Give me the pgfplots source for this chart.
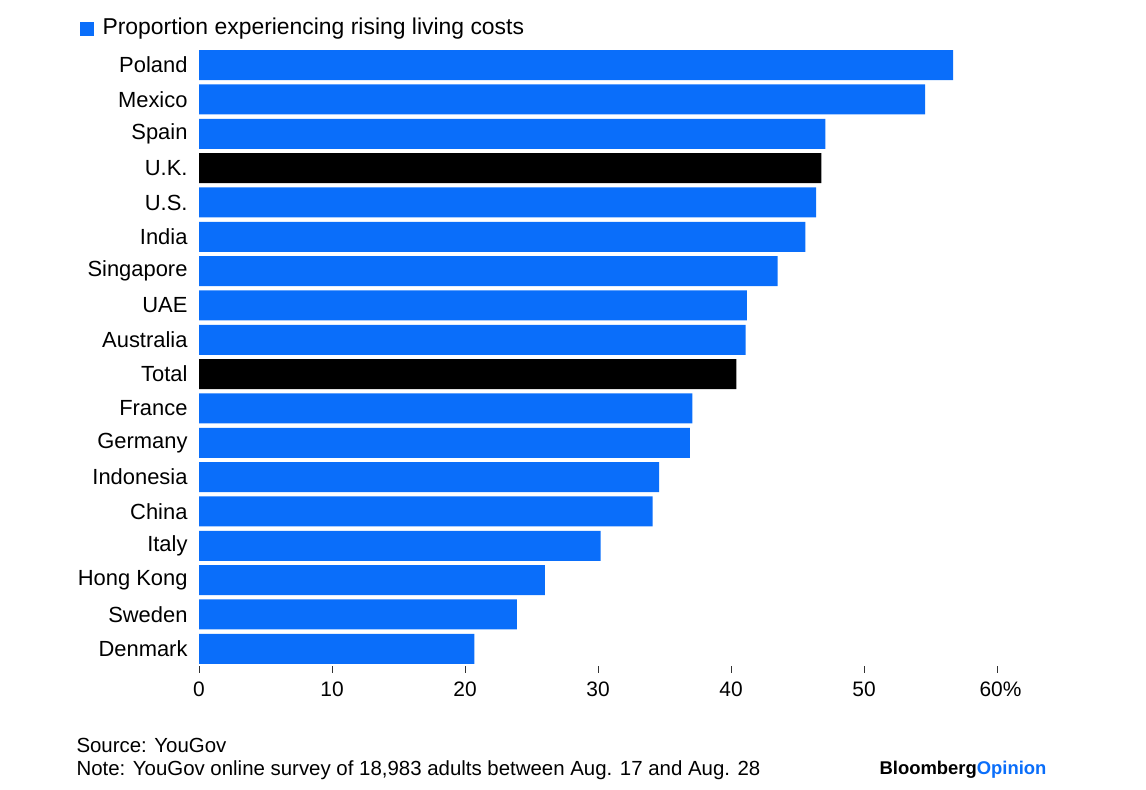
\documentclass[border=0pt]{standalone}
\usepackage{pgfplots}
\pgfplotsset{compat=1.18}
\usepackage{fontspec}
\setmainfont{Liberation Sans}
\definecolor{bb}{RGB}{10,110,250}
\begin{document}
\begin{tikzpicture}[x=1bp,y=1bp]
\path (0,0) rectangle (1146,790);
\begin{axis}[at={(199bp,124bp)},anchor=south west,scale only axis,
 width=798bp,height=618bp,
 xmin=0,xmax=60,ymin=-0.5,ymax=17.5,
 axis line style={draw=none},
 xbar,bar width=30bp,bar shift=0pt,
 ytick={0,...,17},
 yticklabels={Denmark,Sweden,Hong Kong,Italy,China,Indonesia,Germany,France,Total,Australia,UAE,Singapore,India,U.S.,U.K.,Spain,Mexico,Poland},
 yticklabel style={font=\fontsize{22}{26}\selectfont,xshift=-1bp},
 major y tick style={draw=none},
 xtick={0,10,...,60},
 xtick pos=bottom,
 xticklabels={0,10,20,30,40,50,60\%\hspace{-1.45em}\hphantom{60}},
 xticklabel style={font=\fontsize{21}{25}\selectfont,yshift=-5bp},
 /pgf/number format/assume math mode=true,
 tick align=outside,
 major tick length=7bp,
 xtick style={draw=black!80,line width=0.8pt},
]
\addplot[fill=bb,draw=none] coordinates {(20.7,0)(23.9,1)(26.0,2)(30.2,3)(34.1,4)(34.6,5)(36.9,6)(37.1,7)(41.1,9)(41.2,10)(43.5,11)(45.6,12)(46.4,13)(47.1,15)(54.6,16)(56.7,17)};
\addplot[fill=black,draw=none] coordinates {(40.4,8)(46.8,14)};
\end{axis}
\fill[bb] (80,754) rectangle (94,768);
\node[anchor=west,font=\fontsize{23}{27}\selectfont] at (99,761) {Proportion experiencing rising living costs};
\node[anchor=west,font=\fontsize{20.5}{24}\selectfont] at (73,45) {Source: YouGov};
\node[anchor=west,font=\fontsize{20.5}{24}\selectfont] at (73,20) {Note: YouGov online survey of 18,983 adults between Aug. 17 and Aug. 28};
\node[anchor=east,font=\bfseries\fontsize{18.5}{22}\selectfont] at (1050,20) {Bloomberg\textcolor{bb}{Opinion}};
\end{tikzpicture}
\end{document}
